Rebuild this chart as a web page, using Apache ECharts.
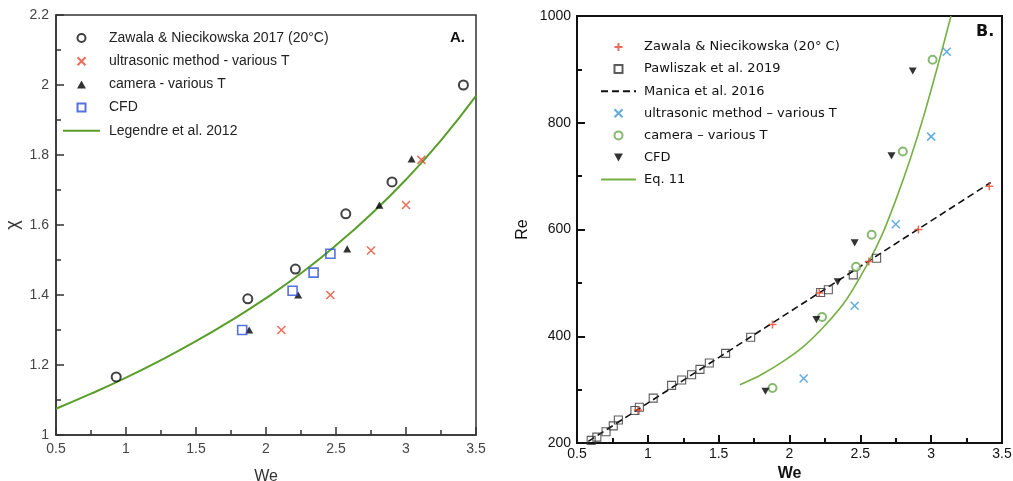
<!DOCTYPE html>
<html>
<head>
<meta charset="utf-8">
<script src="https://cdn.jsdelivr.net/npm/echarts@6/dist/echarts.min.js"></script>
<style>
html,body{margin:0;padding:0;background:#fff;}
#chart{width:1013px;height:481px;}
</style>
</head>
<body>
<div id="chart"></div>
<script>
// ---------- Panel A data (We vs chi) ----------
const zawalaA_we = [0.93, 1.87, 2.21, 2.57, 2.90, 3.41];
const zawalaA_x  = [1.166, 1.389, 1.474, 1.632, 1.723, 2.0];
const ultraA_we  = [2.11, 2.46, 2.75, 3.00, 3.11];
const ultraA_x   = [1.30, 1.40, 1.527, 1.657, 1.786];
const cameraA_we = [1.88, 2.23, 2.58, 2.81, 3.04];
const cameraA_x  = [1.30, 1.40, 1.532, 1.657, 1.789];
const cfdA_we    = [1.83, 2.19, 2.34, 2.46];
const cfdA_x     = [1.30, 1.412, 1.464, 1.518];
const legendreA_we = [0.5, 0.75, 1.0, 1.25, 1.5, 1.75, 2.0, 2.25, 2.5, 2.75, 3.0, 3.25, 3.5];
const legendreA_x  = [1.075, 1.118, 1.164, 1.214, 1.268, 1.327, 1.391, 1.462, 1.542, 1.631, 1.730, 1.842, 1.969];

// ---------- Panel B data (We vs Re) ----------
const zawalaB_we = [0.93, 1.88, 2.21, 2.56, 2.91, 3.41];
const zawalaB_re = [262, 422, 481, 540, 600, 681];
const pawB_we = [0.60, 0.64, 0.705, 0.756, 0.792, 0.909, 0.94, 1.038, 1.168, 1.239, 1.309, 1.368, 1.434, 1.549, 1.726, 2.22, 2.274, 2.45, 2.615];
const pawB_re = [205, 211, 221, 232, 243, 261, 267, 284, 308, 318, 328, 338, 350, 368, 398, 482, 487, 515, 546];
const manicaB_we = [0.58, 3.42];
const manicaB_re = [203, 688];
const ultraB_we = [2.10, 2.46, 2.75, 3.00, 3.11];
const ultraB_re = [321, 457, 610, 774, 933];
const cameraB_we = [1.88, 2.23, 2.47, 2.58, 2.80, 3.01];
const cameraB_re = [303, 436, 530, 590, 746, 918];
const cfdB_we = [1.83, 2.19, 2.34, 2.46, 2.72, 2.87];
const cfdB_re = [297, 431, 502, 575, 738, 897];
const eq11B_we = [1.65, 1.8, 1.95, 2.1, 2.25, 2.4, 2.55, 2.65, 2.75, 2.85, 2.95, 3.05, 3.14];
const eq11B_re = [309, 328, 352, 381, 420, 468, 535, 588, 655, 730, 815, 910, 1000];

// tick settings
const xTicks = {min: 0.5, max: 3.5, interval: 0.5};
const yTicksA = {min: 1, max: 2.2, interval: 0.2};
const yTicksB = {min: 200, max: 1000, interval: 200};

const zip = (a, b) => a.map((v, i) => [v, b[i]]);

const crossPath = 'path://M0,0L10,10M0,10L10,0';
const plusPath = 'path://M5,0L5,10M0,5L10,5';
const squarePath = 'path://M0,0L10,0L10,10L0,10Z';
const triUpPath = 'path://M5,0L10,9L0,9Z';
const triDownPath = 'path://M0,0L10,0L5,9Z';

function axisCommon(color, width, font, fsize, lcolor, margin) {
  return {
    type: 'value',
    axisLine: {show: true, onZero: false, lineStyle: {color: color, width: width}},
    axisTick: {show: true, inside: true, length: 8, lineStyle: {color: color, width: width}},
    minorTick: {show: true, splitNumber: 2, length: 5, lineStyle: {color: color, width: width}},
    splitLine: {show: false},
    minorSplitLine: {show: false},
    axisLabel: {color: lcolor, fontSize: fsize, fontFamily: font, margin: margin, formatter: v => String(v)},
    nameLocation: 'middle'
  };
}

const fontA = 'Liberation Sans, Arial, sans-serif';
const fontB = 'DejaVu Sans, sans-serif';
const hideSym = {opacity: 0};

const option = {
  animation: false,
  backgroundColor: '#fff',
  grid: [
    {left: 56, top: 15, width: 420, height: 420, containLabel: false, outerBoundsMode: 'none',
      show: true, borderColor: '#333', borderWidth: 1.5, backgroundColor: 'transparent'},
    {left: 577, top: 16, width: 425, height: 427, containLabel: false, outerBoundsMode: 'none',
      show: true, borderColor: '#111', borderWidth: 2, backgroundColor: 'transparent'}
  ],
  xAxis: [
    Object.assign(axisCommon('#333', 1.5, fontA, 14, '#444', 7), xTicks, {
      gridIndex: 0, name: 'We', nameGap: 34,
      nameTextStyle: {fontSize: 16, fontFamily: fontA, color: '#333'}
    }),
    Object.assign(axisCommon('#111', 2, fontA, 14, '#111', 4), xTicks, {
      gridIndex: 1, name: 'We', nameGap: 23,
      nameTextStyle: {fontSize: 16, fontFamily: fontA, color: '#111', fontWeight: 'bold'}
    })
  ],
  yAxis: [
    Object.assign(axisCommon('#333', 1.5, fontA, 14, '#444', 7), yTicksA, {
      gridIndex: 0, name: 'χ', nameGap: 34, nameRotate: 90,
      nameTextStyle: {fontSize: 18, fontFamily: fontA, color: '#333'}
    }),
    Object.assign(axisCommon('#111', 2, fontA, 14, '#111', 6), yTicksB, {
      gridIndex: 1, name: 'Re', nameGap: 46,
      nameTextStyle: {fontSize: 16, fontFamily: fontA, color: '#111'}
    })
  ],
  legend: [
    {
      left: 62, top: 31, padding: 0, orient: 'vertical', itemWidth: 37, itemHeight: 8, itemGap: 9.2,
      selectedMode: false,
      textStyle: {fontSize: 14, lineHeight: 14, fontFamily: fontA, color: '#222', padding: [0, 0, 0, 4]},
      data: ['Zawala & Niecikowska 2017 (20°C)', 'ultrasonic method - various T', 'camera - various T', 'CFD',
             {name: 'Legendre et al. 2012', itemStyle: hideSym}]
    },
    {
      left: 600, top: 40, padding: 0, orient: 'vertical', itemWidth: 35, itemHeight: 8, itemGap: 8.1,
      selectedMode: false,
      textStyle: {fontSize: 13, lineHeight: 14, fontFamily: fontB, color: '#111', padding: [0, 0, 0, 3]},
      data: ['Zawala & Niecikowska (20° C)', 'Pawliszak et al. 2019', {name: 'Manica et al. 2016', itemStyle: hideSym},
             'ultrasonic method – various T', 'camera – various T', 'CFD ', {name: 'Eq. 11', itemStyle: hideSym}]
    }
  ],
  graphic: [
    {type: 'text', left: 450, top: 30, style: {text: 'A.', font: 'bold 15px Liberation Sans, Arial, sans-serif', fill: '#111'}},
    {type: 'text', left: 976, top: 24, style: {text: 'B.', font: 'bold 16px DejaVu Sans, sans-serif', fill: '#111'}}
  ],
  series: [
    // Panel A
    {name: 'Legendre et al. 2012', type: 'line', xAxisIndex: 0, yAxisIndex: 0, data: zip(legendreA_we, legendreA_x),
      smooth: true, symbol: 'none', lineStyle: {color: '#5a9e2a', width: 2}, itemStyle: {color: '#5a9e2a'}, z: 2},
    {name: 'Zawala & Niecikowska 2017 (20°C)', type: 'scatter', xAxisIndex: 0, yAxisIndex: 0, data: zip(zawalaA_we, zawalaA_x),
      symbol: 'emptyCircle', symbolSize: 9, itemStyle: {color: '#111', borderWidth: 1.6}, z: 3},
    {name: 'ultrasonic method - various T', type: 'scatter', xAxisIndex: 0, yAxisIndex: 0, data: zip(ultraA_we, ultraA_x),
      symbol: crossPath, symbolSize: 8, symbolKeepAspect: true, itemStyle: {color: 'none', borderColor: '#e5472f', borderWidth: 1.5}, z: 3},
    {name: 'camera - various T', type: 'scatter', xAxisIndex: 0, yAxisIndex: 0, data: zip(cameraA_we, cameraA_x),
      symbol: triUpPath, symbolSize: 8, symbolKeepAspect: true, itemStyle: {color: '#000'}, z: 3},
    {name: 'CFD', type: 'scatter', xAxisIndex: 0, yAxisIndex: 0, data: zip(cfdA_we, cfdA_x),
      symbol: squarePath, symbolSize: 9, symbolKeepAspect: true, itemStyle: {color: 'rgba(255,255,255,0)', borderColor: '#2b4fd6', borderWidth: 1.6}, z: 3},
    // Panel B
    {name: 'Manica et al. 2016', type: 'line', xAxisIndex: 1, yAxisIndex: 1, data: zip(manicaB_we, manicaB_re),
      symbol: 'none', lineStyle: {color: '#111', width: 1.6, type: [7, 4]}, itemStyle: {color: '#111'}, z: 2},
    {name: 'Eq. 11', type: 'line', xAxisIndex: 1, yAxisIndex: 1, data: zip(eq11B_we, eq11B_re),
      smooth: 0.3, symbol: 'none', lineStyle: {color: '#76b043', width: 1.6}, itemStyle: {color: '#76b043'}, z: 2},
    {name: 'Pawliszak et al. 2019', type: 'scatter', xAxisIndex: 1, yAxisIndex: 1, data: zip(pawB_we, pawB_re),
      symbol: squarePath, symbolSize: 8, symbolKeepAspect: true, itemStyle: {color: 'rgba(255,255,255,0)', borderColor: '#333', borderWidth: 1.1}, z: 3},
    {name: 'Zawala & Niecikowska (20° C)', type: 'scatter', xAxisIndex: 1, yAxisIndex: 1, data: zip(zawalaB_we, zawalaB_re),
      symbol: plusPath, symbolSize: 8, symbolKeepAspect: true, itemStyle: {color: 'none', borderColor: '#e5472f', borderWidth: 1.5}, z: 4},
    {name: 'ultrasonic method – various T', type: 'scatter', xAxisIndex: 1, yAxisIndex: 1, data: zip(ultraB_we, ultraB_re),
      symbol: crossPath, symbolSize: 8, symbolKeepAspect: true, itemStyle: {color: 'none', borderColor: '#3a98d8', borderWidth: 1.5}, z: 3},
    {name: 'camera – various T', type: 'scatter', xAxisIndex: 1, yAxisIndex: 1, data: zip(cameraB_we, cameraB_re),
      symbol: 'emptyCircle', symbolSize: 8, itemStyle: {color: '#6aa84f', borderWidth: 1.3}, z: 3},
    {name: 'CFD ', type: 'scatter', xAxisIndex: 1, yAxisIndex: 1, data: zip(cfdB_we, cfdB_re),
      symbol: triDownPath, symbolSize: 8, symbolKeepAspect: true, itemStyle: {color: '#000'}, z: 3}
  ]
};

const chart = echarts.init(document.getElementById('chart'), null, {renderer: 'canvas'});
chart.setOption(option);
</script>
</body>
</html>
